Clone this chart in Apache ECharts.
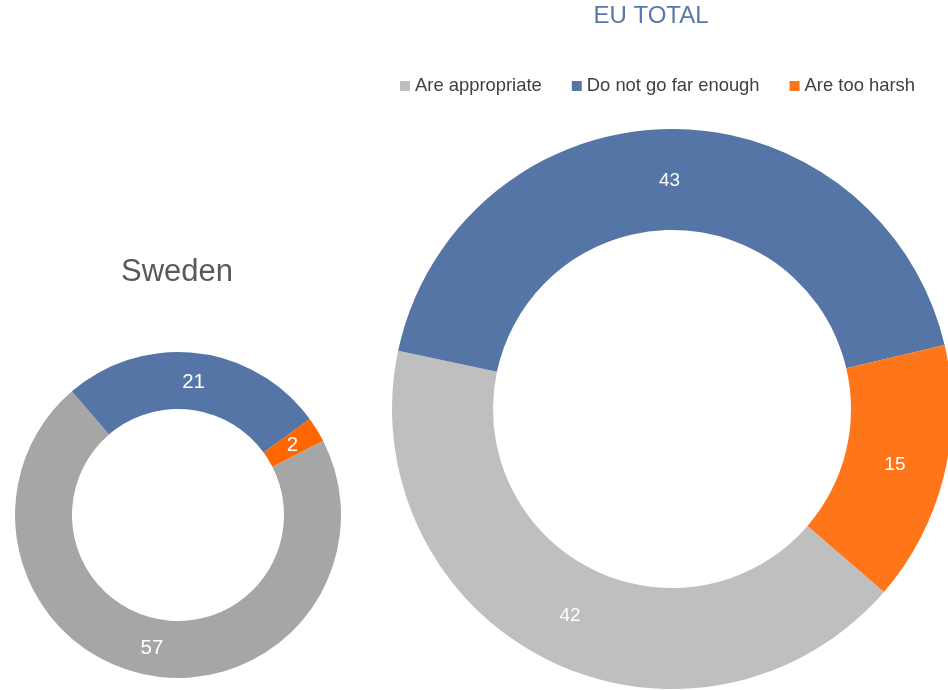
<!DOCTYPE html>
<html>
<head>
<meta charset="utf-8">
<script src="https://cdn.jsdelivr.net/npm/echarts@6/dist/echarts.min.js"></script>
<style>
html,body{margin:0;padding:0;background:#fff;}
#chart{width:948px;height:690px;}
</style>
</head>
<body>
<div id="chart"></div>
<script>
const categories = ['Are appropriate', 'Do not go far enough', 'Are too harsh'];
const euValues = [42, 43, 15];
const swedenValues = [57, 21, 2];
const euTitle = 'EU TOTAL';
const swedenTitle = 'Sweden';

const euColors = ['#BFBFBF', '#5475A5', '#FF761A'];
const seColors = ['#A6A6A6', '#5475A5', '#FF6600'];

const euCenter = [672, 409];
const seCenter = [178, 515];
const centers = [euCenter, seCenter];

function buildData(values, colors) {
  return categories.map((name, i) => ({ name: name, value: values[i], itemStyle: { color: colors[i] } }));
}

// ECharts pushes "inside" pie labels 3px outward; pull them back to the ring middle.
function pullToRingMiddle(params) {
  const c = centers[params.seriesIndex];
  const r = params.labelRect;
  const lx = r.x + r.width / 2 - c[0];
  const ly = r.y + r.height / 2 - c[1];
  const d = Math.sqrt(lx * lx + ly * ly) || 1;
  return { dx: -3 * lx / d, dy: -3 * ly / d + 1 };
}

const chart = echarts.init(document.getElementById('chart'), null, { renderer: 'canvas' });
const FONT = "'Liberation Sans', Arial, sans-serif";

chart.setOption({
  animation: false,
  backgroundColor: '#ffffff',
  textStyle: { fontFamily: FONT },
  title: [
    {
      text: euTitle, left: 651, top: 16, padding: 0,
      textAlign: 'center', textVerticalAlign: 'middle',
      textStyle: { color: '#5878AB', fontSize: 24, fontWeight: 'normal', fontFamily: FONT }
    },
    {
      text: swedenTitle, left: 177, top: 272, padding: 0,
      textAlign: 'center', textVerticalAlign: 'middle',
      textStyle: { color: '#595959', fontSize: 31, fontWeight: 'normal', fontFamily: FONT }
    }
  ],
  legend: {
    data: categories,
    left: 400, top: 77, padding: 0,
    itemWidth: 10, itemHeight: 10, itemGap: 30,
    icon: 'rect',
    selectedMode: false,
    textStyle: { color: '#404040', fontSize: 18.4, fontFamily: FONT }
  },
  series: [
    {
      name: euTitle,
      type: 'pie',
      center: euCenter,
      radius: [179, 280],
      startAngle: 90 - 130.8,
      clockwise: true,
      avoidLabelOverlap: false,
      emphasis: { disabled: true },
      itemStyle: { borderWidth: 0 },
      label: { show: true, position: 'inside', color: '#ffffff', fontSize: 19, fontFamily: FONT, formatter: '{c}' },
      labelLine: { show: false },
      labelLayout: pullToRingMiddle,
      data: buildData(euValues, euColors)
    },
    {
      name: swedenTitle,
      type: 'pie',
      center: seCenter,
      radius: [106, 163],
      startAngle: 90 - 62.9,
      clockwise: true,
      avoidLabelOverlap: false,
      emphasis: { disabled: true },
      itemStyle: { borderWidth: 0 },
      label: { show: true, position: 'inside', color: '#ffffff', fontSize: 20.5, fontFamily: FONT, formatter: '{c}' },
      labelLine: { show: false },
      labelLayout: pullToRingMiddle,
      data: buildData(swedenValues, seColors)
    }
  ]
});
</script>
</body>
</html>
